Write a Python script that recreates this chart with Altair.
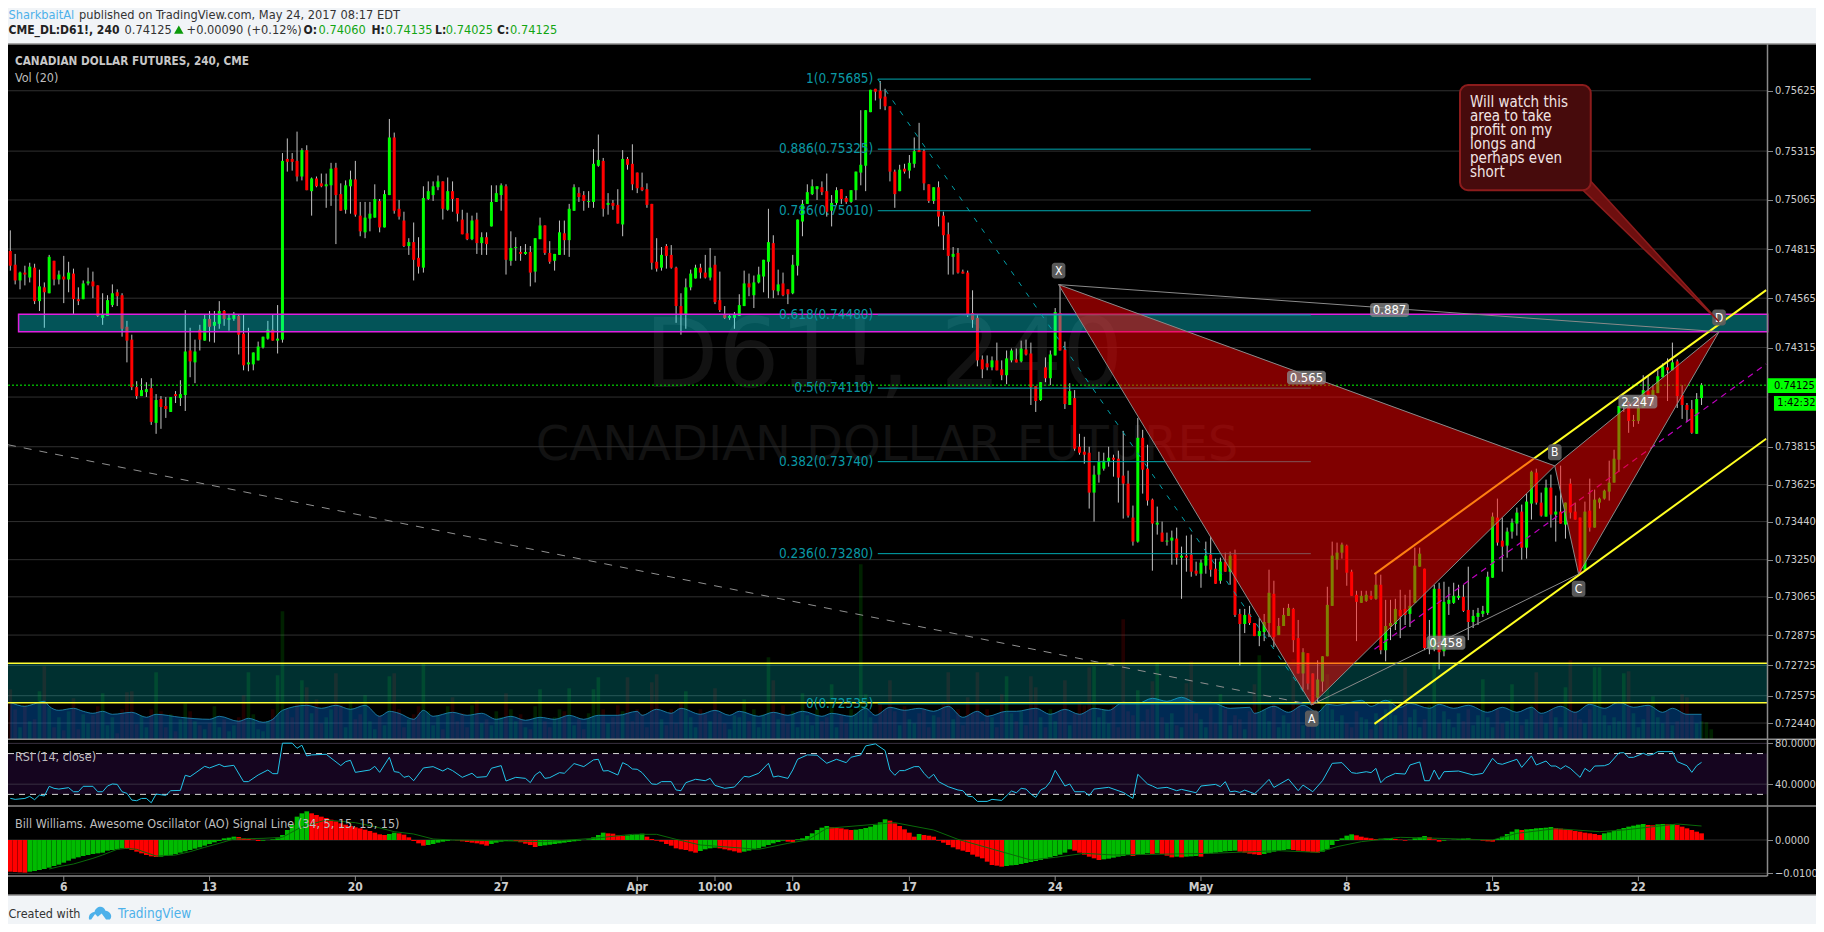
import math
import altair as alt
import pandas as pd

UI = "DejaVu Sans Condensed"

opens = [74805,74735,74655,74695,74670,74720,74550,74620,74590,74755,
74660,74675,74660,74690,74560,74560,74640,74650,74630,74465,
74475,74530,74595,74580,74420,74355,74115,74070,74090,74110,
73935,74055,74020,73990,74080,74060,74075,74300,74240,74405,
74350,74460,74425,74435,74500,74455,74460,74475,74385,74230,
74230,74250,74315,74360,74405,74350,74355,75275,75275,75265,
75185,75320,75110,75175,75150,75135,75140,75230,75095,75015,
75135,75170,74985,74900,74970,74975,75060,74925,75090,75385,
75020,74960,74830,74850,74770,74720,75070,75090,75130,75160,
75015,75110,75075,74965,74895,74865,74965,74845,74875,74930,
75055,75090,75135,74755,74820,74800,74790,74800,74700,74865,
74935,74795,74755,74785,74895,74860,75010,75100,75090,75055,
75055,75240,75265,75040,75050,75040,74940,75275,75250,75205,
75130,75120,75045,74750,74720,74830,74785,74720,74525,74485,
74620,74665,74720,74695,74670,74735,74555,74480,74465,74465,
74475,74525,74640,74580,74645,74675,74750,74845,74600,74640,
74610,74590,74730,74955,75045,75095,75120,75130,75110,75010,
75050,75120,75075,75055,75115,75205,75240,75515,75635,75625,
75595,75545,75210,75110,75225,75215,75250,75320,75315,75145,
75060,75130,74985,74890,74775,74795,74700,74695,74490,74465,
74255,74235,74215,74250,74205,74175,74250,74255,74245,74305,
74285,74120,74050,74215,74160,74275,74490,74305,74025,74060,
73815,73790,73785,73585,73675,73705,73740,73760,73755,73670,
73630,73460,73340,73860,73705,73550,73425,73385,73340,73345,
73355,73260,73270,73275,73195,73180,73220,73275,73205,73145,
73240,73190,73275,72980,72930,72980,72935,72870,72890,72935,
73080,72875,72920,72970,73005,72860,72685,72785,72685,72565,
72645,72770,73020,73250,73285,73320,73190,73075,73035,73045,
73070,73055,73125,72800,72920,72930,73000,73005,72980,73035,
73215,73205,72810,72805,73105,72795,73030,73035,73060,73065,
73000,72940,72965,72980,72985,73160,73460,73345,73320,73390,
73430,73490,73310,73530,73685,73535,73465,73610,73475,73490,
73425,73630,73490,73460,73200,73495,73410,73535,73555,73590,
73635,73750,74015,74040,73945,73945,74010,74095,74075,74085,
74165,74215,74200,74245,74075,74025,74005,73880,74060]

closes = [74730,74655,74695,74685,74725,74550,74625,74595,74775,74660,
74685,74660,74695,74560,74550,74640,74650,74625,74475,74480,
74555,74590,74575,74410,74350,74115,74070,74100,74105,73940,
74050,74015,74005,74065,74070,74080,74295,74245,74295,74355,
74460,74420,74445,74500,74460,74465,74485,74380,74225,74240,
74290,74320,74370,74405,74350,74360,75265,75260,75260,75185,
75320,75115,75175,75135,75135,75145,75225,75090,75010,75140,
75170,74990,74905,74975,74995,75070,74925,75095,75385,75010,
74980,74830,74850,74760,74725,75075,75110,75135,75160,75020,
75110,75070,74995,74890,74865,74960,74845,74875,74840,75055,
75100,75140,74760,74820,74825,74790,74800,74695,74870,74935,
74795,74750,74790,74900,74860,75020,75130,75080,75060,75060,
75250,75270,75020,75050,75035,74945,75275,75245,75145,75125,
75115,75040,74745,74715,74785,74780,74720,74525,74485,74620,
74690,74720,74695,74670,74720,74545,74505,74465,74475,74480,
74530,74640,74620,74645,74685,74760,74850,74605,74635,74580,
74585,74735,74965,75045,75105,75135,75135,75105,75005,75050,
75115,75070,75055,75115,75210,75245,75525,75630,75620,75585,
75545,75210,75095,75220,75210,75255,75315,75310,75150,75060,
75130,74980,74885,74780,74790,74695,74690,74480,74455,74250,
74205,74215,74250,74200,74175,74260,74300,74240,74310,74280,
74115,74045,74140,74160,74280,74495,74300,74030,74095,73805,
73785,73775,73585,73675,73740,73745,73760,73750,73660,73630,
73470,73340,73860,73700,73545,73430,73435,73340,73345,73360,
73260,73270,73260,73190,73180,73235,73270,73200,73130,73240,
73190,73270,72975,72930,72975,72935,72870,72895,72940,73085,
72865,72920,72975,73010,72850,72685,72790,72635,72530,72655,
72770,73025,73270,73285,73325,73185,73070,73040,73070,73075,
73055,73125,72800,72920,72935,73005,72970,72975,73020,73220,
73280,72810,72850,73105,72790,73040,73050,73070,73070,72995,
72940,72970,72985,72995,73165,73465,73335,73315,73390,73435,
73485,73310,73540,73690,73535,73470,73610,73475,73490,73430,
73535,73485,73450,73180,73490,73410,73550,73555,73595,73635,
73755,74020,74025,73945,73950,74010,74100,74050,74100,74170,
74220,74200,74240,74070,74025,74000,73885,74055,74125]

highs = [74910,74790,74700,74730,74745,74740,74710,74645,74785,74755,
74705,74780,74750,74715,74620,74655,74720,74700,74630,74590,
74580,74635,74610,74590,74450,74380,74145,74160,74140,74160,
74080,74070,74065,74065,74095,74150,74505,74415,74355,74430,
74480,74500,74500,74550,74505,74485,74495,74485,74485,74415,
74290,74345,74370,74450,74480,74530,75305,75380,75305,75415,
75330,75345,75180,75185,75200,75200,75255,75255,75150,75165,
75215,75265,75055,75055,75055,75145,75070,75115,75480,75410,
75065,75005,74870,74950,74875,75135,75160,75160,75190,75160,
75180,75160,75075,75015,75000,74985,75000,74900,74900,75140,
75140,75150,75145,74905,74875,74830,74840,74830,74870,74975,
74935,74855,74790,74960,74960,75045,75145,75130,75110,75110,
75325,75400,75280,75100,75065,75120,75320,75285,75350,75205,
75205,75150,75045,74870,74825,74840,74835,74725,74590,74665,
74710,74735,74740,74785,74820,74780,74700,74525,74480,74495,
74585,74705,74690,74680,74725,74760,75020,74885,74710,74695,
74610,74785,74965,75065,75145,75170,75135,75160,75200,75090,
75130,75120,75085,75115,75210,75525,75525,75630,75635,75675,
75635,75545,75220,75245,75250,75295,75385,75460,75325,75145,
75130,75160,75005,74950,74825,74820,74710,74705,74605,74480,
74275,74275,74270,74340,74250,74300,74310,74310,74350,74355,
74340,74120,74140,74265,74300,74515,74635,74345,74135,74100,
73880,73865,73815,73720,73790,73785,73815,73775,73795,73895,
73695,73520,73960,73900,73825,73555,73515,73440,73385,73395,
73410,73315,73370,73375,73240,73250,73340,73365,73255,73260,
73285,73290,73300,73005,73005,73020,72935,72960,72980,73200,
73145,72960,73010,73030,73010,72950,72810,72785,72685,72750,
72770,73115,73340,73335,73335,73325,73200,73095,73095,73095,
73095,73180,73175,73050,73050,73055,73100,73075,73100,73310,
73310,73205,72950,73125,73135,73140,73115,73135,73125,73125,
73215,73000,73010,73020,73190,73485,73555,73460,73410,73455,
73510,73525,73580,73695,73705,73585,73650,73675,73570,73720,
73535,73655,73535,73460,73540,73655,73600,73560,73600,73745,
73800,74020,74040,74045,73975,74055,74175,74175,74125,74200,
74235,74260,74340,74255,74125,74035,74050,74085,74135]

lows = [74705,74635,74610,74630,74645,74535,74500,74415,74590,74630,
74635,74540,74595,74485,74530,74560,74630,74565,74470,74430,
74475,74520,74525,74370,74240,74100,74055,74070,74065,73925,
73880,73905,73960,73990,74035,74020,73995,74165,74135,74300,
74350,74345,74340,74410,74425,74400,74450,74280,74200,74195,
74200,74250,74310,74355,74350,74285,74340,75210,75215,75160,
75165,75115,74985,75130,75130,75025,75035,74840,75010,74995,
74995,74980,74880,74870,74905,74975,74900,74925,75090,74995,
74965,74825,74785,74655,74690,74695,75065,75060,75115,74965,
75010,75005,74955,74890,74860,74860,74790,74785,74785,74930,
75055,75010,74685,74730,74755,74755,74785,74625,74645,74865,
74785,74740,74705,74785,74785,74775,75010,75055,75010,75025,
75025,75235,74980,74990,75015,74945,74880,75220,75115,75100,
75110,75025,74710,74700,74705,74715,74715,74440,74380,74410,
74605,74665,74665,74665,74655,74535,74495,74460,74455,74410,
74475,74525,74575,74515,74640,74595,74565,74565,74580,74575,
74535,74585,74680,74880,75045,75090,75065,75090,74980,74930,
75040,75045,75045,75050,75065,75140,75110,75515,75575,75530,
75525,75160,75025,75110,75200,75175,75230,75310,75115,75050,
75045,74930,74810,74685,74685,74690,74690,74470,74415,74220,
74160,74200,74200,74200,74150,74130,74240,74240,74240,74275,
74025,73990,74045,74140,74125,74275,74300,74005,74025,73795,
73775,73730,73505,73440,73635,73695,73715,73665,73535,73455,
73460,73320,73335,73580,73520,73195,73375,73340,73320,73225,
73225,73055,73190,73165,73170,73110,73180,73165,73130,73130,
73190,73125,72965,72725,72885,72925,72870,72820,72845,72865,
72815,72875,72920,72970,72790,72685,72605,72605,72530,72540,
72595,72770,73020,73200,73255,73120,73070,72845,73035,73040,
73050,73050,72780,72745,72850,72900,72860,72925,72915,73035,
73215,72800,72780,72795,72705,72770,72975,73030,73050,72990,
72850,72910,72925,72965,72975,73160,73320,73190,73260,73355,
73370,73250,73255,73450,73525,73465,73465,73410,73340,73430,
73355,73455,73450,73180,73200,73390,73410,73505,73550,73545,
73635,73690,73990,73885,73915,73930,74010,74050,74025,74085,
74165,74045,74200,74010,73955,73940,73880,73880,74025]

volume = [50,30,12,34,18,20,48,73,32,12,22,9,28,41,10,25,16,24,33,46,14,22,6,30,47,48,15,24,12,30,
67,28,12,25,8,20,36,28,18,14,10,16,33,12,20,8,14,22,44,67,25,10,8,18,30,64,128,30,22,35,
59,52,26,40,16,22,30,66,34,12,38,20,25,44,18,10,24,14,63,66,30,12,20,25,33,76,28,14,24,10,
33,42,18,26,12,34,39,16,20,14,28,22,46,30,18,25,12,10,33,50,18,12,22,30,28,51,14,20,10,26,
50,62,30,16,22,34,28,62,18,30,25,12,57,65,20,14,30,16,38,48,22,12,30,25,18,51,26,16,10,24,
22,40,18,30,12,25,82,59,20,34,16,28,12,46,24,14,30,18,22,55,12,24,16,30,26,175,45,22,16,35,
30,59,28,14,33,20,16,26,30,12,24,22,38,67,20,30,14,42,26,67,18,30,22,12,45,63,26,18,28,14,
63,52,22,12,30,18,28,59,14,26,38,34,72,73,22,30,16,34,12,120,28,24,49,18,30,58,77,22,16,26,
14,12,56,78,26,20,12,32,16,45,30,14,24,20,10,28,55,84,30,18,36,12,24,16,80,36,14,28,20,24,
40,65,30,18,24,16,12,28,22,20,10,26,18,30,40,24,14,72,22,30,12,20,34,76,16,28,20,12,26,18,
30,14,24,60,22,12,30,16,18,55,26,14,20,34,67,24,16,30,22,12,52,79,28,20,16,30,72,72,24,14,
22,18,66,68,26,12,20,34,43,22,16,28,14,18,45,42,24,16,18,17,10]

vol_ma_i = [0,3,4,7,8,10,13,15,17,19,21,25,28,30,35,41,43,47,49,52,54,56,61,64,67,70,73,76,78,80,83,85,87,91,94,97,100,103,106,109,112,115,118,121,125,129,130,133,136,138,142,145,148,150,154,157,160,163,167,169,173,176,178,181,184,187,190,193,196,199,201,205,207,211,214,217,220,223,226,229,232,235,238,241,244,247,251,255,256,260,263,266,269,271,273,278,280,283,286,288,292,294,297,300,304,307,310,313,315,319,322,325,328,331,334,337,340,342,345,348]
vol_ma = [37,33,34,38,33,29,31,28,26,28,25,27,22,25,22,20,23,18,21,17,20,29,34,31,34,30,34,23,28,26,20,29,23,27,24,26,20,23,19,22,20,24,20,24,24,28,24,30,26,31,25,29,24,28,23,27,24,28,23,26,23,31,24,32,29,31,28,33,22,28,23,28,28,31,25,30,25,31,29,37,36,41,38,42,37,37,31,32,26,33,27,34,27,35,34,39,33,39,32,36,31,35,31,34,27,32,27,32,26,33,27,35,31,37,32,34,27,31,25,25]

rsi_i = [0,1,3,4,5,6,7,8,9,10,12,13,14,15,17,18,19,20,21,22,23,24,25,26,27,28,29,30,32,33,35,36,37,38,40,41,43,44,46,48,49,51,53,54,55,56,58,59,60,61,62,65,68,69,70,71,74,75,76,78,79,80,81,82,83,85,87,89,90,91,93,95,96,98,99,101,102,104,106,107,108,109,110,111,113,114,116,118,120,121,122,123,125,126,127,128,129,130,132,133,134,136,137,138,139,141,143,144,145,147,149,151,152,154,156,157,158,160,161,162,164,166,168,170,172,173,175,176,178,180,181,182,183,184,186,187,188,189,190,191,193,195,196,197,198,199,201,202,204,206,207,208,209,210,211,212,213,214,215,217,218,219,221,222,223,226,229,231,232,234,235,236,238,240,241,244,245,248,249,250,251,252,253,254,256,257,259,260,263,265,266,268,270,272,274,276,277,279,280,281,282,283,285,287,288,290,291,292,293,294,295,298,301,303,305,306,307,310,311,313,314,316,317,318,319,320,321,323,324,325,326,328,329,331,332,333,334,336,337,338,339,342,343,345,346,347,348]
rsi = [26.1,25.1,26,28,24.8,29.3,28.4,37.9,35.9,35.2,36.6,32.6,32.6,37.9,37.9,32.6,32.6,38.2,40.2,39.8,32.6,31,24.4,23.8,26,26,21.8,30.3,29,33.6,33.9,48.7,47.4,50.7,57.5,55.9,59.5,57.2,58.5,42.5,42.5,49,53.9,50.3,50.3,80.2,80.2,75.2,78.2,67.7,68.7,69.3,58.2,62.1,63.4,51.6,53.9,57.5,51.6,66.4,52.3,51.6,46.7,48,43.4,55.9,57.2,52.9,55.6,53.3,46.7,50.7,46.7,47.4,55.6,58.2,43.1,46.7,45.7,41.5,49,52.3,45.7,46.4,51.3,50.7,60.2,57.2,63.8,64.4,52.9,53.3,49,61.1,58.8,54.9,54.6,51.3,40.2,39.8,42.5,42.5,34.3,33.6,41.5,44.8,43.4,45.7,38.8,35.9,37.2,47.7,47,50.7,60.5,47,48,45.7,53.9,64.4,68.7,68.4,60.5,64.4,61.1,66.4,68.7,77.5,79.5,73,53.9,48.7,53.3,53.3,57.2,57.2,50.7,45.7,49.7,42.5,37.5,34.3,33.6,28.3,27.7,23.1,23.1,25.1,24.1,33.3,31.6,35.9,35.2,30.3,27,34.3,36.6,42.5,53.6,38.2,40.2,32.6,32.6,28.7,35.2,36.9,31.9,26,49.7,40.2,38.2,35.9,36.9,33.6,34.9,31.6,38.2,39.8,37.5,42.5,32.6,33.2,31.9,34.2,30.6,34.9,44.7,36.8,45,33.6,39.1,32.6,43.4,60.4,61.1,51.3,50.6,52.2,51.3,55.5,41.4,46.3,50.6,49.9,58.8,61.8,43.4,43.4,53.9,44.7,52.2,52.9,49,50.6,65.4,60.4,59.5,64.4,56.5,67.7,58.8,62.7,57.8,57.8,54.9,58.1,55.5,46.7,55.5,52.2,57.8,58.1,59.8,70.6,70.9,66.3,66.3,70.3,68.3,69.3,71.9,71.9,62.1,58.1,51.6,58.1,61.4]

ao_e4 = [-95,-96,-97,-98,-95,-93,-90,-87,-83,-78,
-74,-68,-62,-56,-52,-48,-45,-42,-40,-38,
-32,-30,-28,-25,-27,-30,-35,-40,-45,-49,
-51,-50,-48,-46,-42,-38,-34,-30,-26,-22,
-17,-12,-7,-3,5,7,10,9,5,3,
1,-3,-2,0,2,5,15,30,45,70,
80,86,80,75,70,66,61,56,50,46,
42,38,35,31,27,22,17,15,18,22,
20,16,8,-3,-10,-17,-15,-12,-8,-5,
-3,0,-1,-4,-6,-8,-10,-13,-17,-12,
-8,-5,-3,-2,-3,-7,-11,-15,-21,-18,
-16,-14,-12,-10,-8,-6,-4,-2,0,2,
8,15,22,20,19,14,12,14,15,17,
19,10,3,-2,-5,-12,-17,-25,-28,-30,
-34,-38,-33,-28,-25,-23,-25,-28,-31,-34,
-38,-35,-32,-28,-25,-20,-15,-10,-6,-2,
-5,-7,2,5,12,20,30,37,42,38,
37,35,32,30,31,33,36,40,45,53,
62,58,50,42,32,22,10,18,15,13,
10,-2,-8,-15,-22,-28,-32,-36,-44,-50,
-55,-65,-75,-77,-80,-78,-76,-75,-72,-69,
-66,-63,-60,-56,-52,-48,-44,-38,-28,-32,
-38,-44,-50,-55,-60,-58,-56,-53,-50,-48,
-45,-48,-45,-42,-40,-42,-40,-42,-47,-52,
-50,-52,-50,-49,-48,-50,-42,-40,-38,-36,
-34,-33,-32,-35,-38,-41,-43,-45,-42,-38,
-35,-32,-30,-28,-30,-32,-34,-36,-37,-38,
-35,-28,-15,-3,5,13,17,14,10,7,
5,3,4,5,6,3,1,-2,1,5,
8,12,8,2,-5,-2,0,1,2,4,
5,2,0,-2,-4,-5,3,10,18,25,
32,30,32,33,35,36,37,39,36,34,
32,30,27,25,22,20,18,15,20,23,
27,32,36,40,43,46,48,45,44,47,
48,47,48,45,40,35,30,25,20]

ao_sig_i = [8,10,13,17,19,22,24,26,30,34,37,40,43,46,52,56,60,65,71,75,79,83,87,91,100,110,120,128,133,137,142,154,160,164,168,182,190,195,210,215,221,227,247,261,269,273,278,286,294,305,310,318,327,332,343,348]
ao_sig = [-87,-80,-72,-55,-45,-28,-25,-28,-48,-45,-35,-22,-10,3,5,8,40,60,52,40,25,18,3,0,-2,-5,5,17,17,2,-15,-28,-10,0,35,52,30,2,-60,-52,-40,-45,-40,-32,-37,-20,-5,8,5,0,20,34,25,30,48,42]

price_ticks = [0.75625,0.75315,0.75065,0.74815,0.74565,0.74315,0.73815,0.73625,0.7344,0.7325,0.73065,0.72875,0.72725,0.72575,0.7244]
extra_grid = [0.74065]
fib_levels = [1,0.886,0.786,0.618,0.5,0.382,0.236,0]
fib_prices = [0.75685,0.75325,0.75010,0.74480,0.74110,0.73740,0.73280,0.72535]
time_ticks = [11,41,71,101,129,145,161,185,215,245,275,305,335]
time_labels = ["6","13","20","27","Apr","10:00","10","17","24","May","8","15","22"]

pat_names = ["X","A","B","C","D"]
pat_i = [215.7,267.8,317.8,322.7,351.6]
pat_p = [0.74634,0.72530,0.73719,0.73178,0.74395]
pat_lab_i = [215.7,267.8,317.8,322.7,351.6]
pat_lab_p = [0.74705,0.72462,0.73787,0.73105,0.74467]
ratio_txt = ["0.565","0.887","2.247","0.458"]
ratio_i = [266.7,283.8,334.9,295.4]
ratio_p = [0.74163,0.74505,0.74042,0.72837]

X_MIN, X_MAX, X_AXIS = -0.473, 371.55, 361.6
xs = alt.Scale(domain=[X_MIN, X_MAX], nice=False, zero=False, padding=0)
yP = alt.Scale(type="log", domain=[0.72360, 0.75866], range=[731.3, 36], nice=False)
yR = alt.Scale(domain=[18.6, 84], range=[798, 731.3], nice=False, zero=False)
yA = alt.Scale(domain=[-108, 102], range=[868, 798], nice=False, zero=False)
yV = alt.Scale(domain=[0, 1000], range=[731.3, -268.7], nice=False, zero=False)

one = alt.Data(values=[{"a": 1}])
def X(f): return alt.X(f, type="quantitative", scale=xs, axis=None, title=None)
def X2(f): return alt.X2(f)
def Y(f, s=yP): return alt.Y(f, type="quantitative", scale=s, axis=None, title=None)
def Y2(f): return alt.Y2(f)
L = []

def seg(rows, color, width=1.0, dash=None, s=yP, opacity=1.0):
    d = []
    for k, (a, b, c, e) in enumerate(rows):
        d += [{"k": k, "i": a, "p": b}, {"k": k, "i": c, "p": e}]
    kw = {"color": color, "strokeWidth": width, "opacity": opacity}
    if dash: kw["strokeDash"] = dash
    return alt.Chart(alt.Data(values=d)).mark_line(**kw).encode(x=X("i"), y=Y("p", s), detail=alt.Detail("k:N"))

def text_px(rows, **kw):
    d = [{"px": a, "py": b, "t": c} for a, b, c in rows]
    base = dict(font=UI, align="left", baseline="middle")
    base.update(kw)
    return alt.Chart(alt.Data(values=d)).mark_text(**base).encode(
        x=alt.X("px:Q", scale=None, axis=None), y=alt.Y("py:Q", scale=None, axis=None), text="t:N")

# frame
L.append(alt.Chart(one).mark_rect(color="#000000").encode(x=alt.value(0), x2=alt.value(1808), y=alt.value(36), y2=alt.value(887)))
# RSI band
band = pd.DataFrame({"a": [X_MIN], "b": [X_AXIS], "u": [70], "v": [30]})
L.append(alt.Chart(band).mark_rect(color="#15051f").encode(x=X("a"), x2=X2("b"), y=Y("u", yR), y2=Y2("v")))
# watermark
L.append(text_px([(876, 350, "D61!, 240")], font="DejaVu Sans", fontSize=96, align="center", color="#121212"))
L.append(text_px([(879, 438, "CANADIAN DOLLAR FUTURES")], font="DejaVu Sans", fontSize=48, align="center", color="#121212"))
# price grid and axis
axis_common = dict(orient="right", offset=-48.5, domain=False, grid=False, tickColor="#888888", tickSize=5,
                   labelColor="#cccccc", labelFont=UI, labelFontSize=11, labelPadding=2, zindex=1, title=None)
grid_df = pd.DataFrame({"p": price_ticks + extra_grid, "a": X_MIN, "b": X_AXIS})
L.append(alt.Chart(grid_df).mark_rule(color="#303030", strokeWidth=1).encode(
    x=X("a"), x2=X2("b"),
    y=alt.Y("p", type="quantitative", scale=yP, title=None,
            axis=alt.Axis(values=price_ticks, format=".5f", **axis_common))))
# volume
vol_df = pd.DataFrame({"i": range(len(volume)), "v": volume, "z": 0})
vol_df["col"] = [("#00ff00" if closes[min(k, len(closes)-1)] >= opens[min(k, len(opens)-1)] else "#ff0000") for k in vol_df["i"]]
L.append(alt.Chart(vol_df).mark_bar(size=3.6, opacity=0.13).encode(
    x=X("i"), y=Y("v", yV), y2=Y2("z"), color=alt.Color("col:N", scale=None, legend=None)))
ma_df = pd.DataFrame({"i": vol_ma_i, "v": vol_ma, "z": 0})
L.append(alt.Chart(ma_df).mark_area(color="#0080ff", opacity=0.33, interpolate="monotone").encode(x=X("i"), y=Y("v", yV), y2=Y2("z")))
L.append(alt.Chart(ma_df).mark_line(color="#1f8fb8", strokeWidth=1, opacity=0.8, interpolate="monotone").encode(x=X("i"), y=Y("v", yV)))
# candles
cd = pd.DataFrame({"i": range(len(closes)), "o": opens, "c": closes, "h": highs, "l": lows})
for k in "ochl":
    cd[k] = cd[k] / 100000.0
cd["col"] = ["#00ff00" if a >= b else "#ff0000" for a, b in zip(cd["c"], cd["o"])]
L.append(alt.Chart(cd).mark_rule(color="#c4c4c4", strokeWidth=1).encode(x=X("i"), y=Y("h"), y2=Y2("l")))
L.append(alt.Chart(cd).mark_bar(size=3).encode(x=X("i"), y=Y("o"), y2=Y2("c"), color=alt.Color("col:N", scale=None, legend=None)))
# RSI
rsi_axis = dict(axis_common)
rlines = pd.DataFrame({"v": [80, 40], "a": X_MIN, "b": X_AXIS})
L.append(alt.Chart(rlines).mark_rule(color="#383040", strokeWidth=1).encode(
    x=X("a"), x2=X2("b"),
    y=alt.Y("v", type="quantitative", scale=yR, title=None, axis=alt.Axis(values=[80, 40], format=".4f", **rsi_axis))))
L.append(seg([(X_MIN, 70, X_AXIS, 70), (X_MIN, 30, X_AXIS, 30)], "#d8d8d8", 1, [6, 5], s=yR))
rsi_df = pd.DataFrame({"i": rsi_i, "v": rsi})
L.append(alt.Chart(rsi_df).mark_line(color="#22c4e8", strokeWidth=1).encode(x=X("i"), y=Y("v", yR)))
# AO
alines = pd.DataFrame({"v": [0, -100], "a": X_MIN, "b": X_AXIS})
L.append(alt.Chart(alines).mark_rule(color="#303030", strokeWidth=1).encode(
    x=X("a"), x2=X2("b"),
    y=alt.Y("v", type="quantitative", scale=yA, title=None,
            axis=alt.Axis(values=[0, -100], labelExpr="format(datum.value/10000,'.4f')", **axis_common))))
ao_df = pd.DataFrame({"i": range(len(ao_e4)), "v": ao_e4, "z": 0})
ao_df["col"] = ["#ff0000" if k > 0 and v < ao_e4[k-1] else ("#ff0000" if k == 0 else "#00bb00") for k, v in enumerate(ao_e4)]
L.append(alt.Chart(ao_df).mark_bar(size=4.7).encode(x=X("i"), y=Y("v", yA), y2=Y2("z"), color=alt.Color("col:N", scale=None, legend=None)))
sig_df = pd.DataFrame({"i": ao_sig_i, "v": ao_sig})
L.append(alt.Chart(sig_df).mark_line(color="#0a6a0a", strokeWidth=1).encode(x=X("i"), y=Y("v", yA)))
# current price line
L.append(seg([(X_MIN, 0.74125, X_AXIS, 0.74125)], "#00ff00", 1, [2, 2]))
# zones
zone1 = pd.DataFrame({"a": [1.7], "b": [X_AXIS], "u": [0.74483], "v": [0.74395]})
L.append(alt.Chart(zone1).mark_rect(fill="#08f0fb", fillOpacity=0.35, stroke="#e020e0", strokeWidth=1.5).encode(x=X("a"), x2=X2("b"), y=Y("u"), y2=Y2("v")))
zone2 = pd.DataFrame({"a": [X_MIN], "b": [X_AXIS], "u": [0.72735], "v": [0.72540]})
L.append(alt.Chart(zone2).mark_rect(color="#00f0f0", opacity=0.2).encode(x=X("a"), x2=X2("b"), y=Y("u"), y2=Y2("v")))
L.append(seg([(X_MIN, 0.72735, X_AXIS, 0.72735), (X_MIN, 0.72540, X_AXIS, 0.72540)], "#ffff33", 1.5))
# fib
L.append(seg([(178.5, p, 267.6, p) for p in fib_prices], "#00a8b0", 1))
L.append(seg([(178.5, 0.75685, 267.8, 0.72535)], "#00a0a8", 1, [5, 8]))
fdf = pd.DataFrame({"i": 178.2, "p": fib_prices, "t": [f"{l}({p:.5f})" for l, p in zip(fib_levels, fib_prices)]})
L.append(alt.Chart(fdf).mark_text(font=UI, fontSize=13.5, align="right", baseline="middle", dx=-3, color="#0a98a4").encode(x=X("i"), y=Y("p"), text="t:N"))
# trend + channels
L.append(seg([(-0.473, 0.73825, 267.8, 0.72530)], "#909090", 1, [8, 8]))
L.append(seg([(280.7, 0.73178, 361.3, 0.74606), (280.7, 0.72436, 361.3, 0.73855)], "#ffff22", 2))
L.append(seg([(280.7, 0.72805, 361.3, 0.74232)], "#c000c0", 1.2, [6, 5]))
# harmonic triangles
def interp(a, b, t): return math.exp(math.log(a) + (math.log(b) - math.log(a)) * t)
def tri(k1, k2, k3):
    t = (pat_i[k2] - pat_i[k1]) / (pat_i[k3] - pat_i[k1])
    return pd.DataFrame({"i": [pat_i[k1], pat_i[k2], pat_i[k3]],
                         "hi": [pat_p[k1], interp(pat_p[k1], pat_p[k3], t), pat_p[k3]],
                         "lo": [pat_p[k1], pat_p[k2], pat_p[k3]]})
for df in (tri(0, 1, 2), tri(2, 3, 4)):
    L.append(alt.Chart(df).mark_area(color="#ff0000", opacity=0.5).encode(x=X("i"), y=Y("hi"), y2=Y2("lo")))
def pt(k): return (pat_i[k], pat_p[k])
L.append(seg([pt(0)+pt(1), pt(1)+pt(2), pt(0)+pt(2), pt(2)+pt(3), pt(3)+pt(4), pt(2)+pt(4), pt(1)+pt(3), pt(0)+pt(4)], "#8a8a8a", 1))
# pattern labels
pl = pd.DataFrame({"i": pat_lab_i, "p": pat_lab_p, "t": pat_names})
pl["a"], pl["b"], pl["u"], pl["v"] = pl["i"] - 1.4, pl["i"] + 1.4, pl["p"] + 0.0004, pl["p"] - 0.0004
L.append(alt.Chart(pl).mark_rect(color="#5e5e5e", cornerRadius=3, opacity=0.95).encode(x=X("a"), x2=X2("b"), y=Y("u"), y2=Y2("v")))
L.append(alt.Chart(pl).mark_text(font=UI, fontSize=12, color="#ffffff", baseline="middle").encode(x=X("i"), y=Y("p"), text="t:N"))
rl = pd.DataFrame({"i": ratio_i, "p": ratio_p, "t": ratio_txt})
rl["a"], rl["b"], rl["u"], rl["v"] = rl["i"] - 4, rl["i"] + 4, rl["p"] + 0.00035, rl["p"] - 0.00035
L.append(alt.Chart(rl).mark_rect(color="#8c8c8c", cornerRadius=3, opacity=0.75).encode(x=X("a"), x2=X2("b"), y=Y("u"), y2=Y2("v")))
L.append(alt.Chart(rl).mark_text(font=UI, fontSize=13, color="#ffffff", baseline="middle").encode(x=X("i"), y=Y("p"), text="t:N"))
# callout
tail = pd.DataFrame({"i": [323.6, 325.2, 351.6], "hi": [0.75115, 0.75161, 0.74446], "lo": [0.75115, 0.75077, 0.74446]})
L.append(alt.Chart(tail).mark_area(fill="#6e0f0f", stroke="#8c1c1c", strokeWidth=1.5).encode(x=X("i"), y=Y("hi"), y2=Y2("lo")))
box = pd.DataFrame({"a": [298.3], "b": [325.2], "u": [0.75654], "v": [0.75115]})
L.append(alt.Chart(box).mark_rect(fill="#470b0c", stroke="#8c1c1c", strokeWidth=2, cornerRadius=8).encode(x=X("a"), x2=X2("b"), y=Y("u"), y2=Y2("v")))
note = ["Will watch this", "area to take", "profit on my", "longs and", "perhaps even", "short"]
L.append(text_px([(1462, 94 + 14 * k, s) for k, s in enumerate(note)], fontSize=15, color="#f0e4e4"))
# dividers and border
def hline(y, x1=1808): return alt.Chart(one).mark_rule(color="#8a8a8a", strokeWidth=1.5).encode(x=alt.value(0), x2=alt.value(x1), y=alt.value(y))
L += [hline(731.3), hline(798), hline(868, 1759.5), hline(36), hline(887)]
L.append(alt.Chart(one).mark_rule(color="#8a8a8a", strokeWidth=1.5).encode(x=alt.value(1759.5), y=alt.value(36), y2=alt.value(868)))
# time axis
tdf = pd.DataFrame({"i": time_ticks, "t": time_labels})
L.append(alt.Chart(tdf).mark_rule(color="#8a8a8a", strokeWidth=1).encode(x=X("i"), y=alt.value(868), y2=alt.value(873)))
L.append(alt.Chart(tdf).mark_text(font=UI, fontSize=12, fontWeight="bold", color="#cccccc", baseline="middle").encode(
    x=X("i"), y=alt.value(879), text="t:N"))
# price boxes
pb = pd.DataFrame({"a": [X_AXIS, 362.9], "b": [X_MAX, X_MAX], "u": [0.74160, 0.74070], "v": [0.74085, 0.73996]})
L.append(alt.Chart(pb).mark_rect(color="#00ff00").encode(x=X("a"), x2=X2("b"), y=Y("u"), y2=Y2("v")))
pbt = pd.DataFrame({"i": [362.9, 363.6], "p": [0.74122, 0.74033], "t": ["0.74125", "1:42:32"]})
L.append(alt.Chart(pbt).mark_text(font=UI, fontSize=11, color="#000000", align="left", baseline="middle").encode(x=X("i"), y=Y("p"), text="t:N"))
# pane titles
L.append(text_px([(7, 52.5, "CANADIAN DOLLAR FUTURES, 240, CME")], fontSize=11.7, fontWeight="bold", color="#c8c8c8"))
L.append(text_px([(7, 70, "Vol (20)"), (7, 748.7, "RSI (14, close)"),
                  (7, 815.7, "Bill Williams. Awesome Oscillator (AO) Signal Line (34, 5, 15, 15, 15)")], fontSize=12.5, color="#bdbdbd"))
# header
L.append(text_px([(0.5, 6.5, "SharkbaitAl")], fontSize=12.7, color="#4db1ea"))
L.append(text_px([(71, 6.5, "published on TradingView.com, May 24, 2017 08:17 EDT")], fontSize=12.7, color="#333333"))
L.append(text_px([(0.5, 21.6, "CME_DL:D61!, 240"), (295.6, 21.6, "O:"), (363.5, 21.6, "H:"), (427, 21.6, "L:"), (489, 21.6, "C:")],
                 fontSize=12, fontWeight="bold", color="#222222"))
L.append(text_px([(116.5, 21.6, "0.74125"), (178.6, 21.6, "+0.00090 (+0.12%)")], fontSize=12.7, color="#333333"))
L.append(text_px([(310.6, 21.6, "0.74060"), (377.4, 21.6, "0.74135"), (437.8, 21.6, "0.74025"), (502, 21.6, "0.74125")], fontSize=12.7, color="#12a512"))
tri_hdr = pd.DataFrame({"px": [170.8], "py": [21.6]})
L.append(alt.Chart(tri_hdr).mark_point(shape="triangle-up", filled=True, size=90, color="#0a9a0a", opacity=1).encode(
    x=alt.X("px:Q", scale=None, axis=None), y=alt.Y("py:Q", scale=None, axis=None)))
# footer
L.append(text_px([(0.5, 906, "Created with")], fontSize=12.5, color="#333333"))
L.append(text_px([(110, 906, "TradingView")], fontSize=13.5, color="#4db1ea"))
logo = pd.DataFrame({"px": [92], "py": [905]})
L.append(alt.Chart(logo).mark_point(
    shape="M-1,0.6 C-1.1,0 -0.6,-0.1 -0.5,-0.1 C-0.4,-0.6 0.3,-0.8 0.5,-0.2 C0.9,-0.2 1.2,0.3 0.9,0.6 L0.55,0.6 L0.15,0.05 L-0.2,0.35 L-0.45,0.1 L-0.8,0.6 Z",
    filled=True, size=484, color="#4db1ea", opacity=1).encode(
    x=alt.X("px:Q", scale=None, axis=None), y=alt.Y("py:Q", scale=None, axis=None)))

chart = alt.layer(*L).resolve_scale(y="independent").properties(
    width=1808, height=916, padding=0, autosize=alt.AutoSizeParams(type="none"), background="#f1f4f7"
).configure_view(stroke=None)
chart.save("out.html", embed_options={"renderer": "svg", "actions": False})
